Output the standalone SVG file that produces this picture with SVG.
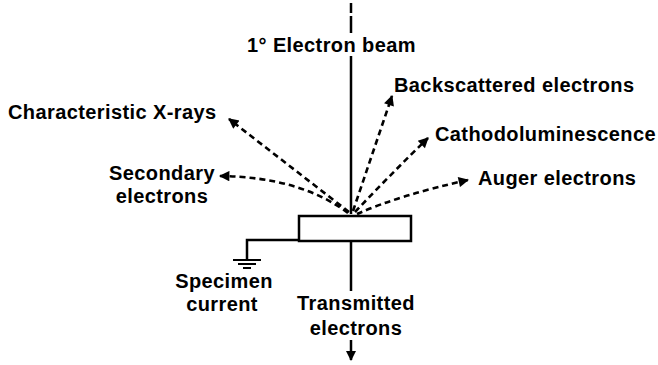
<svg xmlns="http://www.w3.org/2000/svg" width="658" height="365" viewBox="0 0 658 365">
<defs>
<marker id="ah" viewBox="0 0 10 10" refX="9" refY="5" markerWidth="4.5" markerHeight="4" orient="auto" markerUnits="strokeWidth">
<path d="M0,0 L10,5 L0,10 z" fill="#000"/>
</marker>
</defs>
<style>
text{font-family:"Liberation Sans",Arial,Helvetica,sans-serif;font-weight:bold;font-size:20px;letter-spacing:0.4px;fill:#000}
.solid{stroke:#000;stroke-width:2.5;fill:none}
.dash{stroke:#000;stroke-width:2.6;fill:none;stroke-dasharray:6 4}
.mid{text-anchor:middle}
</style>
<rect width="658" height="365" fill="#fff"/>
<g id="connectors">
<path class="solid" d="M351,3 V13 M351,16 V33" stroke-width="2"/>
<path class="solid" d="M351,56 V214"/>
<path class="dash" d="M349,212 L229,119" marker-end="url(#ah)"/>
<path class="dash" d="M348,213 Q300,177 220,176" marker-end="url(#ah)"/>
<path class="dash" d="M353,211 L392,96" marker-end="url(#ah)"/>
<path class="dash" d="M355,212 Q390,175 428,138" marker-end="url(#ah)"/>
<path class="dash" d="M357,214 Q400,195 468,180" marker-end="url(#ah)"/>
<path class="solid" d="M351,241 V291"/>
<path class="solid" d="M351,340 V360" marker-end="url(#ah)"/>
<path class="solid" d="M299,240 H247 V260"/>
</g>
<g id="beam"><text x="247" y="52">1° Electron beam</text></g>
<g id="specimen"><rect x="299" y="216" width="112" height="25" fill="#fff" stroke="#000" stroke-width="2.5"/></g>
<g id="ground">
<path d="M233,260 H261 M238,264 H256 M243,268 H251" stroke="#000" stroke-width="2"/>
</g>
<g id="xrays"><text x="8" y="119">Characteristic X-rays</text></g>
<g id="secondary"><text class="mid" x="162" y="180">Secondary</text><text class="mid" x="162" y="203">electrons</text></g>
<g id="backscattered"><text x="394" y="92">Backscattered electrons</text></g>
<g id="cathodo"><text x="435" y="141">Cathodoluminescence</text></g>
<g id="auger"><text x="478" y="185">Auger electrons</text></g>
<g id="specimen-current"><text class="mid" x="224" y="288">Specimen</text><text class="mid" x="222" y="311">current</text></g>
<g id="transmitted"><text class="mid" x="356" y="310">Transmitted</text><text class="mid" x="356" y="335">electrons</text></g>
</svg>
